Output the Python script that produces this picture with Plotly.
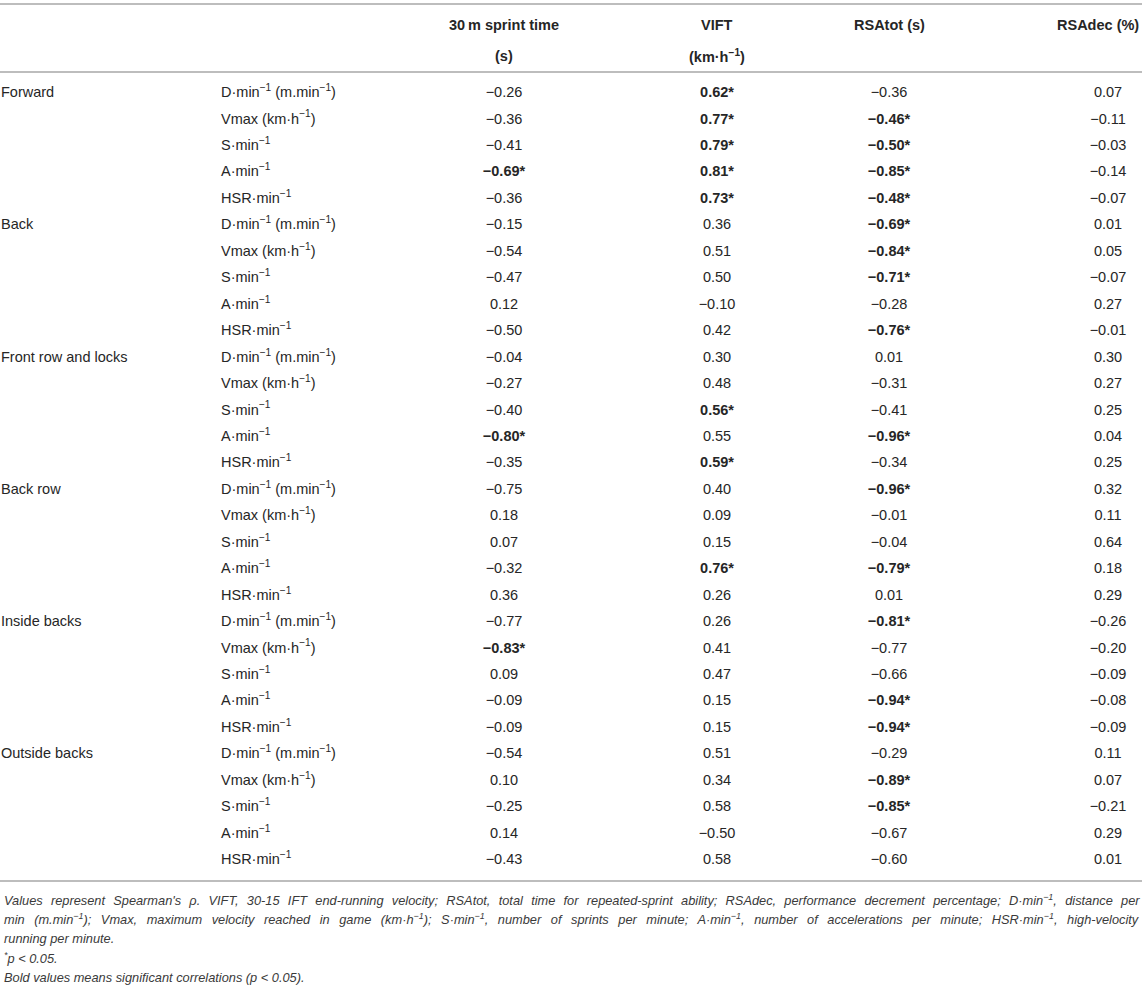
import plotly.graph_objects as go

# ---------------- data ----------------
groups = ["Forward", "Back", "Front row and locks", "Back row", "Inside backs", "Outside backs"]
variables = ["D·min<sup>−1</sup> (m.min<sup>−1</sup>)", "Vmax (km·h<sup>−1</sup>)",
             "S·min<sup>−1</sup>", "A·min<sup>−1</sup>", "HSR·min<sup>−1</sup>"]
header_line1 = ["30\u2009m sprint time", "VIFT", "RSAtot (s)", "RSAdec (%)"]
header_line2 = ["(s)", "(km·h<sup>−1</sup>)", "", ""]

sprint30 = [-0.26, -0.36, -0.41, -0.69, -0.36,
            -0.15, -0.54, -0.47, 0.12, -0.50,
            -0.04, -0.27, -0.40, -0.80, -0.35,
            -0.75, 0.18, 0.07, -0.32, 0.36,
            -0.77, -0.83, 0.09, -0.09, -0.09,
            -0.54, 0.10, -0.25, 0.14, -0.43]
sprint30_sig = [0, 0, 0, 1, 0,
                0, 0, 0, 0, 0,
                0, 0, 0, 1, 0,
                0, 0, 0, 0, 0,
                0, 1, 0, 0, 0,
                0, 0, 0, 0, 0]

vift = [0.62, 0.77, 0.79, 0.81, 0.73,
        0.36, 0.51, 0.50, -0.10, 0.42,
        0.30, 0.48, 0.56, 0.55, 0.59,
        0.40, 0.09, 0.15, 0.76, 0.26,
        0.26, 0.41, 0.47, 0.15, 0.15,
        0.51, 0.34, 0.58, -0.50, 0.58]
vift_sig = [1, 1, 1, 1, 1,
            0, 0, 0, 0, 0,
            0, 0, 1, 0, 1,
            0, 0, 0, 1, 0,
            0, 0, 0, 0, 0,
            0, 0, 0, 0, 0]

rsatot = [-0.36, -0.46, -0.50, -0.85, -0.48,
          -0.69, -0.84, -0.71, -0.28, -0.76,
          0.01, -0.31, -0.41, -0.96, -0.34,
          -0.96, -0.01, -0.04, -0.79, 0.01,
          -0.81, -0.77, -0.66, -0.94, -0.94,
          -0.29, -0.89, -0.85, -0.67, -0.60]
rsatot_sig = [0, 1, 1, 1, 1,
              1, 1, 1, 0, 1,
              0, 0, 0, 1, 0,
              1, 0, 0, 1, 0,
              1, 0, 0, 1, 1,
              0, 1, 1, 0, 0]

rsadec = [0.07, -0.11, -0.03, -0.14, -0.07,
          0.01, 0.05, -0.07, 0.27, -0.01,
          0.30, 0.27, 0.25, 0.04, 0.25,
          0.32, 0.11, 0.64, 0.18, 0.29,
          -0.26, -0.20, -0.09, -0.08, -0.09,
          0.11, 0.07, -0.21, 0.29, 0.01]
rsadec_sig = [0] * 30

footnotes = [
    "Values represent Spearman's ρ. VIFT, 30-15 IFT end-running velocity; RSAtot, total time for repeated-sprint ability; "
    "RSAdec, performance decrement percentage; D·min<sup>−1</sup>, distance per",
    "min (m.min<sup>−1</sup>); Vmax, maximum velocity reached in game (km·h<sup>−1</sup>); S·min<sup>−1</sup>, "
    "number of sprints per minute; A·min<sup>−1</sup>, number of accelerations per minute; HSR·min<sup>−1</sup>, high-velocity",
    "running per minute.",
    "<sup>*</sup>p < 0.05.",
    "Bold values means significant correlations (p < 0.05).",
]
# justified lines get extra word spacing (px)
foot_word_spacing = [4.7, 6.0, 0, 0, 0]

# ---------------- layout constants ----------------
W, H = 1146, 993
ROW0_PX, PITCH = 93.5, 26.45
def row(py):
    return (py - ROW0_PX) / PITCH

FONT = "Liberation Sans, Arial, sans-serif"
FS = 14.5
TXT = "#262626"
RULE = "#bdbdbd"
col_x = [504, 717, 889, 1108]
hdr_x = [504, 717, 889, 1141]
hdr_anchor = ["center", "center", "center", "right"]
group_x, var_x = 1, 221

n_rows = len(groups) * len(variables)
rows = list(range(n_rows))

def fmt(v, s):
    t = f"{v:.2f}".replace("-", "−")
    return f"<b>{t}*</b>" if s else t

fig = go.Figure()

# group labels
fig.add_trace(go.Scatter(
    x=[group_x] * len(groups), y=[i * len(variables) for i in range(len(groups))],
    text=groups, mode="text", textposition="middle right",
    textfont=dict(family=FONT, size=FS, color=TXT), hoverinfo="skip", showlegend=False))

# variable labels
fig.add_trace(go.Scatter(
    x=[var_x] * n_rows, y=rows, text=variables * len(groups), mode="text",
    textposition="middle right", textfont=dict(family=FONT, size=FS, color=TXT),
    hoverinfo="skip", showlegend=False))

for cx, vals, sig in zip(col_x, [sprint30, vift, rsatot, rsadec],
                         [sprint30_sig, vift_sig, rsatot_sig, rsadec_sig]):
    fig.add_trace(go.Scatter(
        x=[cx] * n_rows, y=rows, text=[fmt(v, s) for v, s in zip(vals, sig)],
        mode="text", textposition="middle center",
        textfont=dict(family=FONT, size=FS, color=TXT),
        hoverinfo="skip", showlegend=False))

# header (two lines)
for hx, anc, t1, t2 in zip(hdr_x, hdr_anchor, header_line1, header_line2):
    fig.add_annotation(x=hx, y=row(25), xref="x", yref="y", text="<b>" + t1 + "</b>",
                       showarrow=False, xanchor=anc, yanchor="middle",
                       font=dict(family=FONT, size=FS, color=TXT))
    if t2:
        fig.add_annotation(x=hx, y=row(56), xref="x", yref="y", text="<b>" + t2 + "</b>",
                           showarrow=False, xanchor=anc, yanchor="middle",
                           font=dict(family=FONT, size=FS, color=TXT))

# rules
for py in (4, 72, 881):
    fig.add_shape(type="line", xref="x", yref="y", x0=0, x1=1142, y0=row(py), y1=row(py),
                  line=dict(color=RULE, width=2))

# footnotes
for i, (t, ws) in enumerate(zip(footnotes, foot_word_spacing)):
    body = f"<i>{t}</i>"
    if ws:
        body = f"<span style='word-spacing:{ws}px'>{body}</span>"
    fig.add_annotation(x=2, y=row(899.5 + i * 19.4), xref="x", yref="y", text=body,
                       showarrow=False, xanchor="left", yanchor="middle", align="left",
                       font=dict(family=FONT, size=12.8, color="#3a3a3a"))

fig.update_layout(
    width=W, height=H, margin=dict(l=0, r=0, t=0, b=0),
    paper_bgcolor="white", plot_bgcolor="white",
    xaxis=dict(range=[0, W], visible=False, fixedrange=True),
    yaxis=dict(range=[row(H), row(0)], visible=False, fixedrange=True),
    showlegend=False,
)

fig.write_html("out.html", config={"displayModeBar": False},
               post_script="document.body.style.margin='0';document.body.style.overflow='hidden';")
